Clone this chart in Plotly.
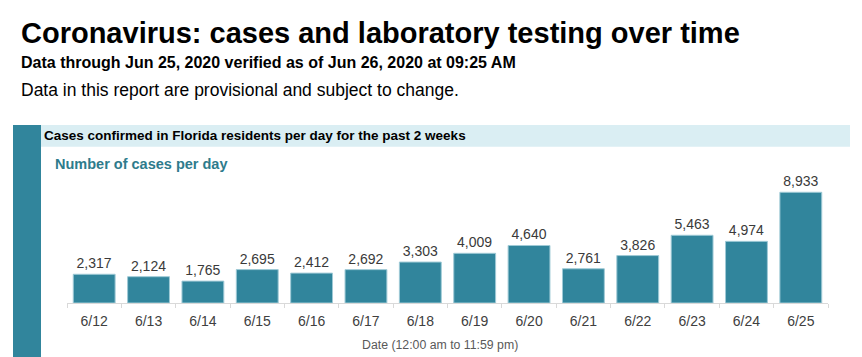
import plotly.graph_objects as go

dates = ["6/12", "6/13", "6/14", "6/15", "6/16", "6/17", "6/18",
         "6/19", "6/20", "6/21", "6/22", "6/23", "6/24", "6/25"]
cases = [2317, 2124, 1765, 2695, 2412, 2692, 3303,
         4009, 4640, 2761, 3826, 5463, 4974, 8933]

# page body has an 8px margin: figure occupies window pixels 8..862 / 8..357
OFF = 8
WIN_W, WIN_H = 862, 357
PLOT_L, PLOT_R, PLOT_T, PLOT_B = 67, 828, 170, 303   # window pixels
W, H = WIN_W - OFF, WIN_H - OFF
L, R, T, B = PLOT_L - OFF, WIN_W - PLOT_R, PLOT_T - OFF, WIN_H - PLOT_B
PW, PH = PLOT_R - PLOT_L, PLOT_B - PLOT_T
TEAL = "#31859c"
FONT = "Liberation Sans, Arial, sans-serif"


def px(x):
    return (x - PLOT_L) / PW


def py(y):
    return (PLOT_B - y) / PH


fig = go.Figure(go.Bar(
    x=dates, y=cases,
    marker=dict(color=TEAL, line=dict(color="#9fcad6", width=1)),
    text=[f"{v:,}" for v in cases], textposition="outside",
    textfont=dict(family=FONT, size=14, color="#3a3a3a"),
    cliponaxis=False, width=0.77,
))

shapes = [
    dict(type="rect", xref="paper", yref="paper", x0=px(13), x1=px(41),
         y0=py(125), y1=py(365), fillcolor=TEAL, line=dict(width=0), layer="below"),
    dict(type="rect", xref="paper", yref="paper", x0=px(41), x1=px(850),
         y0=py(125), y1=py(146.7), fillcolor="#daeef3", line=dict(width=0), layer="below"),
]

annotations = [
    dict(text="<b>Coronavirus: cases and laboratory testing over time</b>",
         x=px(19), y=py(33), xanchor="left", yanchor="middle",
         font=dict(family=FONT, size=29, color="#000000")),
    dict(text="<b>Data through Jun 25, 2020 verified as of Jun 26, 2020 at 09:25 AM</b>",
         x=px(19), y=py(62), xanchor="left", yanchor="middle",
         font=dict(family=FONT, size=16, color="#000000")),
    dict(text="Data in this report are provisional and subject to change.",
         x=px(19), y=py(90), xanchor="left", yanchor="middle",
         font=dict(family=FONT, size=17.5, color="#000000")),
    dict(text="<b>Cases confirmed in Florida residents per day for the past 2 weeks</b>",
         x=px(42), y=py(136), xanchor="left", yanchor="middle",
         font=dict(family=FONT, size=13.5, color="#000000")),
    dict(text="<b>Number of cases per day</b>",
         x=px(53), y=py(164), xanchor="left", yanchor="middle",
         font=dict(family=FONT, size=14.5, color="#2e7b8c")),
    dict(text="Date (12:00 am to 11:59 pm)",
         x=px(440), y=py(345), xanchor="center", yanchor="middle",
         font=dict(family=FONT, size=12.3, color="#595959")),
]
for a in annotations:
    a.update(xref="paper", yref="paper", showarrow=False)

fig.update_layout(
    width=W, height=H, margin=dict(l=L, r=R, t=T, b=B, pad=0),
    paper_bgcolor="white", plot_bgcolor="white",
    showlegend=False, shapes=shapes, annotations=annotations,
    xaxis=dict(range=[-0.5, 13.5], showline=True, linecolor="#d9d9d9", linewidth=1,
               ticks="outside", tickson="boundaries", ticklen=4, tickcolor="#d9d9d9",
               tickfont=dict(family=FONT, size=14, color="#404040"),
               showgrid=False, fixedrange=True, ticklabelstandoff=5),
    yaxis=dict(range=[0, 10731], visible=False, showgrid=False, fixedrange=True),
)

fig.write_html("out.html")
